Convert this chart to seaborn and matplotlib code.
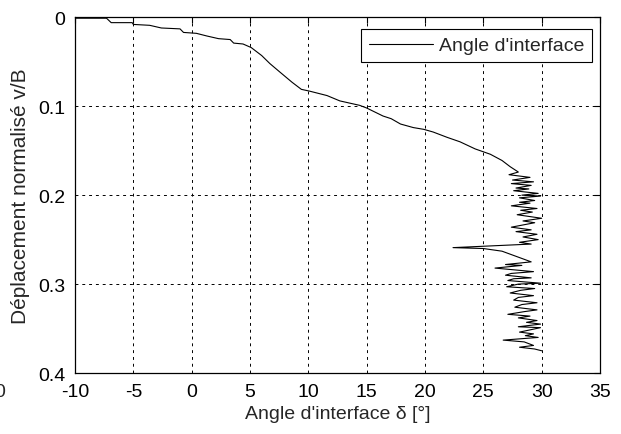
import seaborn as sns
import matplotlib.pyplot as plt

# angle d'interface (deg) and normalised displacement v/B
angle = [-10.0, -7.3, -6.9, -5.1, -5.0, -3.6, -2.6, -1.0, -0.7, 0.4,
         1.3, 2.3, 3.3, 3.6, 4.4, 5.1, 6.0, 6.7, 7.6, 8.6,
         9.4, 10.1, 11.6, 12.7, 14.4, 15.0, 16.4, 17.1, 17.9, 19.0,
         19.9, 20.7, 21.9, 23.0, 24.3, 25.6, 26.6, 27.3, 28.0,
         27.2, 29.0, 27.5, 29.3, 27.4, 29.1, 27.8, 28.9, 27.6, 29.7,
         28.3, 29.9, 28.1, 29.4, 28.1, 29.0, 27.4, 29.6, 28.2, 29.2,
         27.9, 30.0, 28.4, 29.4, 27.4, 29.1, 27.8, 29.6, 28.4, 29.7,
         28.1, 29.1, 22.4, 25.0, 26.6,
         29.1, 26.9, 28.3, 26.0, 29.3, 27.4, 26.9, 29.1, 27.6, 27.1,
         29.9, 28.0, 27.0, 29.4, 28.2, 27.3, 29.3, 28.0, 27.6, 29.6,
         28.3, 27.7, 29.6, 28.5, 27.1, 29.0, 28.0, 29.6, 28.7, 29.9,
         28.0, 29.9, 28.1, 29.3, 28.6, 29.7, 26.7, 28.5, 29.3, 28.1,
         29.4, 30.0]
disp = [0.001, 0.001, 0.006, 0.006, 0.008, 0.009, 0.012, 0.013, 0.017, 0.018,
        0.021, 0.024, 0.025, 0.029, 0.030, 0.034, 0.043, 0.052, 0.062, 0.073,
        0.081, 0.083, 0.088, 0.094, 0.099, 0.102, 0.111, 0.114, 0.120, 0.124,
        0.126, 0.129, 0.135, 0.140, 0.148, 0.154, 0.161, 0.168, 0.174,
        0.177, 0.180, 0.183, 0.185, 0.187, 0.189, 0.192, 0.193, 0.195, 0.198,
        0.200, 0.201, 0.203, 0.206, 0.208, 0.209, 0.212, 0.215, 0.217, 0.219,
        0.222, 0.226, 0.229, 0.231, 0.236, 0.239, 0.241, 0.244, 0.247, 0.250,
        0.253, 0.255, 0.259, 0.260, 0.263,
        0.275, 0.278, 0.279, 0.282, 0.286, 0.288, 0.290, 0.293, 0.294, 0.296,
        0.299, 0.300, 0.303, 0.305, 0.307, 0.310, 0.313, 0.315, 0.318, 0.321,
        0.323, 0.326, 0.329, 0.331, 0.334, 0.336, 0.338, 0.341, 0.343, 0.345,
        0.348, 0.349, 0.354, 0.356, 0.358, 0.360, 0.363, 0.365, 0.369, 0.371,
        0.373, 0.375]

xticks = [-10, -5, 0, 5, 10, 15, 20, 25, 30, 35]
yticks = [0, 0.1, 0.2, 0.3, 0.4]
ytick_labels = ["0", "0.1", "0.2", "0.3", "0.4"]

sns.set_style("white")
plt.rcParams["font.family"] = ["Liberation Sans", "DejaVu Sans"]
plt.rcParams["axes.unicode_minus"] = False

fig = plt.figure(figsize=(6.21, 4.35), dpi=100)
ax = fig.add_axes([0.1208, 0.1402, 0.8454, 0.8177])

sns.lineplot(x=angle, y=disp, sort=False, estimator=None, color="black",
             lw=0.8, label="Angle d'interface", ax=ax)

ax.set_xlim(-10, 35)
ax.set_ylim(0.4, 0)
ax.set_xticks(xticks)
ax.set_xticklabels([str(t) for t in xticks])
ax.set_yticks(yticks)
ax.set_yticklabels(ytick_labels)
ax.tick_params(direction="in", length=4, width=0.8, top=True, right=True,
               labelsize=14, colors="black", pad=7)
ax.grid(True, color="black", linestyle=(0, (3, 4)), linewidth=0.7)
for s in ax.spines.values():
    s.set_color("black")
    s.set_linewidth(0.9)

ax.set_xlabel("Angle d'interface δ [°]", fontsize=14, labelpad=4)
ax.set_ylabel("Déplacement normalisé v/B", fontsize=15, labelpad=6)

leg = ax.legend(loc="upper right", bbox_to_anchor=(0.985, 0.967),
                borderaxespad=0, fontsize=14, handlelength=3.3,
                fancybox=False, framealpha=1, edgecolor="black",
                borderpad=0.4, handletextpad=0.3)
leg.get_frame().set_linewidth(0.8)

# stray label of the neighbouring panel, cut by the crop
fig.text(0.0, 0.098, "0", fontsize=14, ha="center", va="center")

fig.savefig("out.png", dpi=100)
